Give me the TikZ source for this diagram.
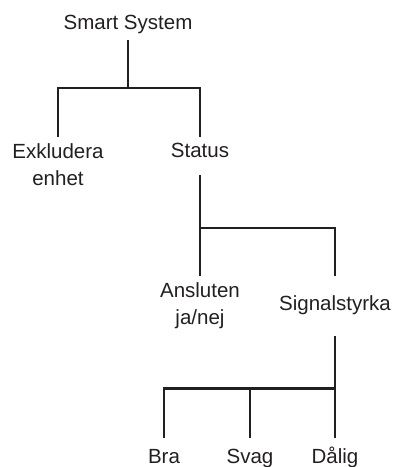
\documentclass[tikz,border=0pt]{standalone}
\usepackage{fontspec}
\setmainfont{Liberation Sans}
\definecolor{ink}{HTML}{231F20}

\begin{document}
\begin{tikzpicture}[
    x=1pt, y=1pt,
    item/.style={font=\fontsize{20.5}{27}\selectfont, text=ink, align=center, inner xsep=0pt, inner ysep=6pt, anchor=north},
    link/.style={draw=ink, line width=2.2pt, line join=miter}
]
\useasboundingbox (0,0) rectangle (392,-467);

% Root
\node[item, anchor=base, text depth=5pt] (root) at (128,-29) {Smart System};

% First level
\node[item] (excl) at (58,-137) {Exkludera\\enhet};
\node[item, text depth=11pt] (status) at (200,-137) {Status};

% Second level
\node[item] (conn) at (200,-276) {Ansluten\\ja/nej};
\node[item, text height=28pt, text depth=20pt] (signal) at (335,-276) {Signalstyrka};

% Third level
\node[item, text height=19pt] (bra) at (164,-438) {Bra};
\node[item, text height=19pt] (svag) at (250,-438) {Svag};
\node[item, text height=19pt] (dalig) at (335,-438) {Dålig};

% Junctions
\coordinate (j1) at ([yshift=-48pt]root.south);
\coordinate (j2) at ([yshift=-53pt]status.south);
\coordinate (j3) at ([yshift=-52pt]signal.south);

% Links
\draw[link] (root.south) -- (j1);
\draw[link] (excl.north) |- (j1) -| (status.north);

\draw[link] (status.south) -- (conn.north);
\draw[link] (j2) -| (signal.north);

\draw[link] (signal.south) -- (dalig.north);
\draw[link] (bra.north) |- (j3);
\draw[link] (svag.north) |- (j3);

\end{tikzpicture}
\end{document}
